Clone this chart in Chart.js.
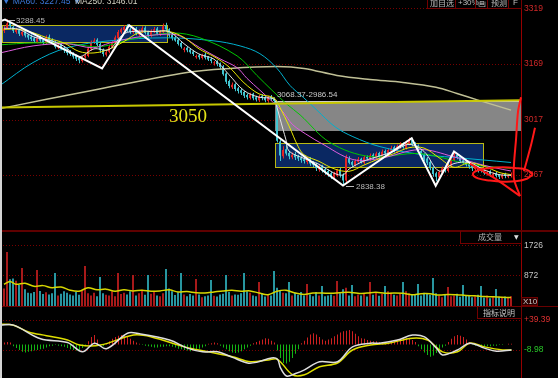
<!DOCTYPE html>
<html>
<head>
<meta charset="utf-8">
<script src="https://cdn.jsdelivr.net/npm/chart.js@4.4.1/dist/chart.umd.min.js"></script>
<style>
html,body{margin:0;padding:0;background:#000;}
#wrap{position:relative;width:558px;height:378px;background:#000;overflow:hidden;font-family:"Liberation Sans",Arial,sans-serif;}
#wrap canvas{position:absolute;left:0;}
.t{position:absolute;white-space:nowrap;line-height:1;}
.box{position:absolute;border:1px solid rgb(115,0,0);box-sizing:border-box;color:#bdbdbd;font-family:"Noto Sans CJK SC",sans-serif;font-size:8px;white-space:nowrap;}
</style>
</head>
<body>
<div id="wrap">
<canvas id="cMain" width="558" height="231" style="top:0;width:558px;height:231px"></canvas>
<canvas id="cVol" width="558" height="75" style="top:231px;width:558px;height:75px"></canvas>
<canvas id="cMacd" width="558" height="72" style="top:306px;width:558px;height:72px"></canvas>

<div style="position:absolute;left:0;top:230px;width:558px;height:2px;background:rgb(95,0,0)"></div>
<div style="position:absolute;left:0;top:306px;width:558px;height:1px;background:rgb(105,0,0)"></div>
<div style="position:absolute;left:0;top:0;width:2px;height:378px;background:#d4d4d4"></div>

<div class="t" style="left:2px;top:-3px;font-size:8.5px;color:#3b78d8">▼ MA60: 3227.45 ▼</div>
<div class="t" style="left:75px;top:-3px;font-size:8.5px;color:#d4d4c4">MA250: 3146.01</div>

<div class="box" style="left:427px;top:-4px;width:29px;height:13px;line-height:11px;padding-left:2px">加自选</div>
<div class="box" style="left:455px;top:-4px;width:21px;height:13px;line-height:11px;padding-left:2px;font-family:'Liberation Sans',Arial">+30%</div>
<div class="box" style="left:475px;top:-4px;width:13px;height:13px;line-height:11px;padding-left:2px">画</div>
<div class="box" style="left:487px;top:-4px;width:22px;height:13px;line-height:11px;padding-left:3px">预测</div>
<div class="box" style="left:508px;top:-4px;width:14px;height:13px;line-height:11px;padding-left:4px;font-family:'Liberation Sans',Arial">F</div>

<div class="box" style="left:460px;top:231px;width:62px;height:13px;border-top:none;line-height:11px;padding-left:17px;color:#b4b4b4">成交量<span style="position:absolute;left:53px;top:0;font-size:6px;color:#e0e0e0;font-family:'DejaVu Sans'">▼</span></div>
<div class="box" style="left:477px;top:306px;width:45px;height:13px;line-height:12px;padding-left:5px;color:#c4c4c4">指标说明</div>
<div class="t" style="left:521px;top:297px;width:17px;height:9px;border:1px solid rgb(110,0,0);box-sizing:border-box;background:rgb(45,0,0);color:#c8c8c8;font-size:8px;line-height:7px;padding-left:1px">X10</div>
</div>

<script>
// ================= DATA =================
const candleIndex = [...Array(170).keys()];

const openP = [
3258,3266,3280,3268,3255,3260,3248,3256,3247,3242,3238,
3228,3240,3233,3226,3242,3234,3226,3213,3222,3212,3207,
3200,3196,3190,3184,3176,3186,3190,3208,3226,3234,3222,
3206,3193,3201,3214,3224,3238,3254,3260,3270,
3262,3254,3264,3248,3256,3266,3254,3244,3256,3264,3248,3254,3272,
3262,3247,3240,3234,3225,3206,3212,3207,3202,3186,3192,
3184,3194,3187,3182,3170,3175,3169,
3162,3142,3122,3105,3113,3102,
3097,3092,3084,3076,3087,3078,
3070,3082,3078,3068,3080,3075,
3066,2958,2918,
2937,2927,2915,2924,2918,2914,
2910,2902,2912,2900,2897,2882,
2892,2883,2878,2872,2862,2866,2882,
2868,2852,
2912,2902,2894,2903,2911,2900,
2916,2910,2922,2913,2927,2916,2932,2923,
2933,2942,2930,2943,2952,2940,2953,2962,
2952,2947,2932,2922,2912,2902,2887,
2872,2860,2873,2887,
2878,2893,2908,2922,2917,
2907,2902,2897,2892,2883,2890,
2882,2880,2870,2877,2866,2872,2867,2860,2870,2862,2865];

const closeP = [
3265,3278,3270,3258,3262,3250,3255,3245,3240,3236,3230,
3238,3232,3225,3240,3232,3228,3215,3220,3210,3205,3198,
3195,3188,3182,3178,3185,3192,3210,3228,3232,3220,3205,
3195,3200,3215,3225,3240,3255,3262,3268,3260,
3255,3262,3250,3258,3265,3252,3245,3258,3262,3250,3255,3270,3262,
3245,3238,3232,3222,3215,3210,3205,3200,3195,3190,3186,
3192,3185,3180,3176,3172,3168,3160,
3140,3120,3108,3112,3100,3095,
3090,3082,3078,3085,3075,3072,
3080,3076,3070,3078,3074,3068,
2960,2920,2935,
2925,2918,2922,2915,2912,2908,
2905,2910,2898,2895,2885,2890,
2880,2875,2870,2865,2872,2880,2868,
2852,2915,
2900,2895,2905,2910,2902,2915,
2912,2920,2915,2925,2918,2930,2925,2935,
2940,2932,2945,2950,2942,2955,2960,2950,
2945,2930,2920,2910,2900,2885,2870,
2862,2875,2885,2880,
2895,2910,2920,2915,2905,
2900,2895,2890,2885,2888,2880,
2878,2872,2875,2868,2870,2865,2862,2868,2864,2866,2870];

const highP = [
3272,3288.45,3282,3272,3266,3264,3260,3262,3250,3248,3242,
3242,3245,3236,3246,3248,3238,3230,3224,3226,3216,3210,
3206,3200,3194,3188,3190,3196,3214,3232,3238,3238,3226,
3210,3205,3220,3230,3245,3260,3266,3274,3276,
3266,3268,3268,3262,3270,3270,3258,3262,3268,3268,3260,3278,3280,
3265,3250,3244,3238,3228,3214,3216,3210,3206,3194,3196,
3196,3198,3190,3186,3176,3178,3172,
3165,3145,3126,3118,3116,3106,
3100,3095,3088,3090,3090,3082,
3084,3086,3082,3082,3084,3078,
3068,2962,2945,
2948,2932,2928,2930,2922,2918,
2915,2916,2915,2905,2900,2895,
2895,2888,2882,2876,2876,2884,2886,
2872,2922,
2918,2906,2910,2916,2914,2920,
2920,2925,2926,2930,2930,2936,2936,2940,
2946,2946,2950,2956,2956,2960,2968,2966,
2956,2950,2936,2926,2916,2906,2890,
2876,2878,2890,2892,
2898,2914,2928,2926,2920,
2912,2906,2900,2896,2892,2893,
2886,2883,2879,2880,2874,2875,2870,2872,2873,2869,2874];

const lowP = [
3252,3262,3265,3252,3250,3244,3243,3240,3234,3230,3225,
3224,3228,3220,3222,3228,3222,3210,3208,3205,3198,3192,
3190,3182,3176,3170,3172,3182,3186,3204,3222,3216,3198,
3188,3188,3197,3210,3220,3234,3250,3256,3254,
3250,3250,3246,3244,3252,3248,3240,3240,3252,3246,3244,3250,3256,
3240,3232,3228,3218,3210,3200,3200,3196,3190,3182,3180,
3180,3180,3176,3170,3164,3162,3154,
3136,3114,3102,3100,3094,3088,
3084,3076,3072,3072,3070,3066,
3065,3070,3064,3063,3068,3062,
2955,2905,2912,
2920,2910,2910,2908,2905,2900,
2898,2896,2892,2888,2878,2876,
2874,2868,2862,2856,2858,2862,2860,
2838.38,2848,
2896,2888,2890,2900,2898,2896,
2906,2906,2910,2910,2912,2912,2920,2918,
2928,2928,2926,2938,2938,2936,2948,2945,
2940,2925,2914,2904,2894,2880,2862,
2850,2855,2868,2874,
2874,2888,2904,2910,2900,
2896,2890,2884,2878,2878,2874,
2874,2868,2866,2862,2860,2860,2856,2856,2858,2858,2860];

const volume = [
500,1537,760,780,720,600,1082,480,380,360,
400,1025,430,340,390,330,360,940,300,350,
420,380,330,300,400,320,430,1139,360,300,
380,280,826,360,320,300,420,280,940,340,
380,330,420,883,300,360,460,320,883,350,
430,300,280,360,1053,500,420,310,390,940,
330,280,340,300,769,330,250,280,300,740,
290,270,330,350,883,400,300,330,320,360,
940,420,380,300,280,683,360,270,330,300,
996,520,430,380,360,683,300,380,320,400,
300,626,330,280,400,300,569,280,300,330,
290,712,360,480,520,300,598,280,330,300,
350,270,683,320,400,290,350,569,420,380,
320,300,350,683,420,360,320,340,626,300,
380,350,320,797,360,300,250,330,541,280,
300,350,260,598,300,290,250,280,320,569,
240,300,220,280,484,260,230,270,250,280];

const macdHist = [
3,4,3,
-3,-6,-9,-12,-13,-12,-11,-10,-9,-8,-7,-5,-3,
-2,-1,-2,
-3,-4,-6,-8,-9,-10,-9,-6,-3,
5,12,15,8,
-2,-3,
2,5,9,12,14,15,14,12,9,6,3,1,
-1,-2,-3,-4,-5,-5,-4,-4,-3,-3,
-4,-5,-7,-8,-9,-10,-11,-10,-9,-7,-5,-3,
1,2,3,2,
-2,-5,-8,-11,-13,-14,-13,-11,-8,-5,-2,
2,4,6,8,10,9,6,
3,
-10,-22,-30,-31,-28,-22,-15,-8,
2,6,11,16,18,16,12,8,6,
8,10,13,16,19,21,22,23,21,17,13,10,
9,7,6,5,5,4,3,3,2,4,
6,8,9,10,10,9,7,4,
-3,-8,-13,-17,-20,-18,-14,-9,-5,-2,
4,9,13,15,14,12,8,4,
-1,-2,-3,-4,-4,-3,-3,-2,-2,-1,-1,0,1,1];

// moving-average lines: [candle index, value]
const ma5 = [[0,3265],[5,3262],[10,3241],[15,3233],[20,3216],[25,3188],[30,3209],[35,3207],[40,3250],[45,3257],[50,3256],[55,3256],[60,3223],[65,3195],[70,3181],[75,3139],[80,3096],[85,3078],[90,3073],[91,3050],[92,3020],[93,2991],[94,2962],[95,2932],[100,2912],[105,2896],[110,2872],[113,2867],[115,2883],[120,2905],[125,2918],[130,2932],[135,2950],[140,2931],[145,2878],[150,2898],[155,2901],[160,2881],[165,2868],[169,2866]];
const ma10 = [[0,3262],[5,3262],[10,3252],[15,3237],[20,3225],[25,3202],[30,3198],[35,3208],[40,3229],[45,3253],[50,3256],[55,3256],[60,3240],[65,3209],[70,3188],[75,3160],[80,3117],[85,3087],[90,3076],[92,3050],[95,3000],[98,2945],[100,2922],[105,2904],[110,2884],[115,2877],[120,2894],[125,2911],[130,2925],[135,2941],[140,2940],[145,2914],[150,2888],[155,2900],[160,2891],[165,2874],[169,2868]];
const ma20 = [[-1.3,3198],[9.7,3217],[21,3223],[29.7,3212],[35.3,3225],[43,3239],[54.3,3249],[58.7,3244],[65.3,3212],[72,3182],[77.7,3158],[81,3129],[85.3,3097],[89.7,3064],[93,3038],[96.3,3003],[102,2971],[105.3,2955],[116.3,2909],[125.3,2912],[138.7,2936],[149.7,2917],[158.7,2896],[166.3,2882],[169,2878]];
const ma30 = [[-1.3,3220],[9.7,3225],[22,3223],[32,3215],[43,3236],[56.3,3252],[65.3,3239],[77.7,3190],[84.3,3137],[89.3,3097],[94.3,3059],[98.7,3030],[108.7,2955],[122,2917],[138.7,2925],[155.3,2896],[169,2885]];
const ma60 = [[-1.3,3110],[9.7,3172],[21,3212],[35.3,3231],[54.3,3239],[69.7,3231],[78.7,3217],[85.3,3196],[91,3156],[95.3,3110],[99.7,3078],[104.3,3043],[110.3,2998],[116.3,2971],[125.3,2944],[138.7,2923],[149.7,2915],[169,2901]];
const ma250 = [[-1.3,3047],[29.7,3097],[61,3145],[75.3,3156],[91,3161],[100,3156],[111,3137],[122,3126],[133,3118],[144,3105],[151,3088],[158,3070],[169,3043]];

const zigzag = [[-1.33,3284],[0.33,3288.45],[32.7,3156],[41.7,3273],[113,2838.38],[135.9,2967],[143.9,2838],[150,2931],[155.9,2896]];
const level3050 = [[-1.33,3050],[172.33,3070]];
const levelText = '3050';

// hand-drawn red marks
const markA = [[172.33,3078],[171.33,3038],[170.67,2963],[170,2896],[170,2856],[172,2810]];
const markB = [[177,2995],[175.7,2949],[173.3,2877]];
const markC = [[155.3,2898],[164,2856],[172,2810]];
const markRing = [[176.3,2869],[174.3,2857],[170.3,2850],[166.3,2849],[162,2852],[158,2858],[156.3,2869],[158,2880],[162,2886],[166.3,2888],[170.3,2886],[174.3,2881],[176.3,2869]];

// consolidation zones and gap
const zoneStart = [-0.67, 90.3];
const zoneEnd = [54.3, 159.6];
const zoneHigh = [3273.5, 2953.9];
const zoneLow = [3226.6, 2888.6];
const gapStart = 90.3, gapHigh = 3068.37, gapLow = 2986.54;
const highMark = [1, 3288.45];
const lowMark = [113, 2838.38];
const levelTextPos = [61.3, 3024];

const volMA = [[0,620],[2,700],[4,620],[7,650],[10,560],[13,580],[16,520],[19,540],[22,450],[25,420],[28,520],[31,460],[34,480],[37,420],[40,460],[43,430],[46,450],[49,420],[52,430],[55,460],[58,400],[61,410],[64,380],[67,370],[70,400],[73,430],[76,450],[79,420],[82,430],[85,370],[88,320],[91,420],[94,450],[97,370],[100,330],[103,370],[106,370],[109,360],[112,380],[115,390],[118,360],[121,370],[124,390],[127,360],[130,370],[133,360],[136,320],[139,350],[142,350],[145,310],[148,330],[151,320],[154,300],[157,290],[160,270],[163,260],[166,250],[169,240]];

const dif = [[-1.3,31],[3,31],[12,9],[21,3],[26,-12],[30,2],[34,-7],[41,18],[45,17],[55,7],[61,-6],[66,-12],[71,-12],[76,-21],[81,-30],[84,-29],[89,-22],[91,-24],[92,-38],[94,-51],[97,-47],[100,-41],[105,-28],[111,-28],[116,-4],[122,2],[125,2],[131,7],[136,15],[140,12],[144,-6],[146,-17],[151,-9],[155,2],[160,-6],[164,-11],[169,-9]];
const dea = [[-1.3,33],[3,31],[8,20],[14,14],[21,7],[25,-1],[32,-1],[43,15],[49,12],[60,-4],[68,-12],[76,-20],[82,-28],[88,-25],[91,-24],[96,-49],[100,-49],[105,-36],[111,-30],[116,-9],[122,-1],[128,2],[136,10],[141,7],[146,-12],[151,-12],[155,2],[160,-4],[166,-9],[169,-9]];

const mainTicks = [3319, 3169, 3017, 2867];
const volTicks = [1726, 872];
const macdTicks = [39.39, -8.98];

// ================= CHARTS =================
Chart.defaults.font.family = '"Liberation Sans", Arial, sans-serif';
const X_MIN = -4/3, X_SPAN = 521/3;
const UP = 'rgb(228,36,36)', DOWN = 'rgb(66,196,208)';
const VUP = 'rgb(168,26,26)', VDOWN = 'rgb(40,150,160)';

const P = a => a.map(([x, y]) => ({x, y}));
const lineDs = (data, color, width, order, extra) => Object.assign({
  type:'line', data:P(data), borderColor:color, borderWidth:width, pointRadius:0,
  tension:0.35, fill:false, order
}, extra || {});

// shift (in index units) lets 1px bars sit on whole pixels
const xScale = (shift) => ({type:'linear', min:X_MIN - (shift || 0), max:X_MIN - (shift || 0) + X_SPAN, offset:false, display:false});
function yAxis(min, max, tickVals, color, fmt) {
  return {
    type:'linear', position:'right', min, max, beginAtZero:false,
    afterBuildTicks: s => { s.ticks = tickVals.map(v => ({value:v})); },
    afterFit: s => { s.width = 37; s.paddingTop = 0; s.paddingBottom = 0; },
    grid:{display:false, drawTicks:false},
    border:{display:true, color:'rgb(150,0,0)', width:1},
    ticks:{autoSkip:false, padding:3, color, font:{size:8.5}, callback: fmt}
  };
}
const common = {
  responsive:false, animation:false, events:[], devicePixelRatio:1,
  layout:{padding:0},
  plugins:{legend:{display:false}, tooltip:{enabled:false}}
};

const dottedGrid = {
  id:'dottedGrid',
  beforeDatasetsDraw(chart) {
    const {ctx, chartArea:{left, right}, scales:{y}} = chart;
    ctx.save();
    ctx.strokeStyle = 'rgb(120,0,0)'; ctx.lineWidth = 1; ctx.setLineDash([1, 2]);
    for (const t of y.ticks) {
      const py = Math.round(y.getPixelForValue(t.value)) + 0.5;
      ctx.beginPath(); ctx.moveTo(left, py); ctx.lineTo(right, py); ctx.stroke();
    }
    ctx.restore();
  }
};

const zonesPlugin = {
  id:'zones',
  beforeDatasetsDraw(chart) {
    const {ctx, chartArea, scales:{x, y}} = chart;
    ctx.save();
    const gx0 = Math.round(x.getPixelForValue(gapStart));
    const gy0 = Math.round(y.getPixelForValue(gapHigh));
    const gy1 = Math.round(y.getPixelForValue(gapLow));
    ctx.fillStyle = 'rgb(134,134,134)';
    ctx.fillRect(gx0, gy0, chartArea.right - gx0, gy1 - gy0);
    ctx.fillStyle = 'rgb(205,205,205)';
    ctx.fillRect(gx0, gy0, chartArea.right - gx0, 1);
    for (let k = 0; k < zoneStart.length; k++) {
      const x0 = Math.round(x.getPixelForValue(zoneStart[k])), x1 = Math.round(x.getPixelForValue(zoneEnd[k]));
      const y0 = Math.round(y.getPixelForValue(zoneHigh[k])), y1 = Math.round(y.getPixelForValue(zoneLow[k]));
      ctx.fillStyle = 'rgb(10,40,98)';
      ctx.fillRect(x0, y0, x1 - x0, y1 - y0);
      ctx.strokeStyle = 'rgb(185,185,20)'; ctx.lineWidth = 1;
      ctx.strokeRect(x0 + 0.5, y0 + 0.5, x1 - x0, y1 - y0);
    }
    ctx.restore();
  },
  afterDatasetsDraw(chart) {
    const {ctx, scales:{x, y}} = chart;
    ctx.save();
    ctx.font = '8px "Liberation Sans", Arial, sans-serif';
    ctx.fillStyle = '#b8b8b8'; ctx.strokeStyle = '#b8b8b8'; ctx.lineWidth = 1;
    ctx.textBaseline = 'middle'; ctx.textAlign = 'left';
    let px = x.getPixelForValue(highMark[0]), py = Math.round(y.getPixelForValue(highMark[1])) + 0.5;
    ctx.beginPath(); ctx.moveTo(px + 2, py); ctx.lineTo(px + 8, py); ctx.stroke();
    ctx.fillText(highMark[1].toFixed(2), px + 9, py);
    px = x.getPixelForValue(lowMark[0]); py = Math.round(y.getPixelForValue(lowMark[1])) + 0.5;
    ctx.beginPath(); ctx.moveTo(px + 3, py); ctx.lineTo(px + 11, py); ctx.stroke();
    ctx.fillText(lowMark[1].toFixed(2), px + 13, py);
    ctx.fillStyle = '#c8c8c8';
    ctx.fillText(gapHigh.toFixed(2) + '-' + gapLow.toFixed(2), x.getPixelForValue(gapStart) + 2, y.getPixelForValue(gapHigh) - 6);
    ctx.font = '19px "Liberation Serif", "Times New Roman", serif';
    ctx.fillStyle = 'rgb(228,228,24)'; ctx.textAlign = 'center';
    ctx.fillText(levelText, x.getPixelForValue(levelTextPos[0]), y.getPixelForValue(levelTextPos[1]));
    ctx.restore();
  }
};

const upDown = candleIndex.map(i => closeP[i] >= openP[i]);
const candleColors = upDown.map(u => u ? UP : DOWN);
const volColors = upDown.map(u => u ? VUP : VDOWN);
const RED_MARK = 'rgb(255,24,24)';

new Chart(document.getElementById('cMain'), {
  type:'bar',
  data:{datasets:[
    lineDs(markA, RED_MARK, 2, 0, {clip:false, tension:0.3}),
    lineDs(markB, RED_MARK, 2, 0, {clip:false, tension:0.3}),
    lineDs(markC, RED_MARK, 2, 0, {clip:false, tension:0.3}),
    lineDs(markRing, RED_MARK, 2, 0, {clip:false, tension:0.4}),
    lineDs(zigzag, '#ffffff', 2, 1, {tension:0}),
    lineDs(level3050, 'rgb(200,200,0)', 2, 2, {tension:0}),
    lineDs(ma5, 'rgb(228,228,228)', 1, 3),
    lineDs(ma10, 'rgb(232,232,0)', 1, 4),
    lineDs(ma20, 'rgb(222,92,222)', 1, 5),
    lineDs(ma30, 'rgb(0,200,0)', 1, 6),
    lineDs(ma60, 'rgb(0,176,206)', 1, 7),
    lineDs(ma250, 'rgb(192,192,150)', 1.5, 8),
    {type:'bar', data:candleIndex.map(i => ({x:i, y:[openP[i], closeP[i]]})), backgroundColor:candleColors,
     barThickness:2, grouped:false, inflateAmount:0, order:9},
    {type:'bar', xAxisID:'xw', data:candleIndex.map(i => ({x:i, y:[lowP[i], highP[i]]})), backgroundColor:candleColors,
     barThickness:1, grouped:false, inflateAmount:0, order:10}
  ]},
  options:Object.assign({}, common, {scales:{x:xScale(0), xw:xScale(1/6), y:yAxis(2715.2, 3341.5, mainTicks, 'rgb(208,40,40)', v => String(v))}}),
  plugins:[dottedGrid, zonesPlugin]
});

new Chart(document.getElementById('cVol'), {
  type:'bar',
  data:{datasets:[
    lineDs(volMA, 'rgb(215,215,0)', 1.5, 1),
    {type:'bar', data:candleIndex.map(i => ({x:i, y:volume[i]})), backgroundColor:volColors,
     barThickness:2, grouped:false, inflateAmount:0, order:2}
  ]},
  options:Object.assign({}, common, {scales:{x:xScale(0), y:yAxis(0, 2135, volTicks, '#c4c4c4', v => String(v))}}),
  plugins:[dottedGrid]
});

new Chart(document.getElementById('cMacd'), {
  type:'bar',
  data:{datasets:[
    lineDs(dif, 'rgb(222,222,222)', 1.5, 1),
    lineDs(dea, 'rgb(222,222,0)', 1.5, 2),
    {type:'bar', data:candleIndex.map(i => ({x:i, y:macdHist[i]})),
     backgroundColor:macdHist.map(v => v >= 0 ? 'rgb(205,32,32)' : 'rgb(20,180,20)'),
     barThickness:1, grouped:false, inflateAmount:0, order:3}
  ]},
  options:Object.assign({}, common, {scales:{x:xScale(1/6), y:yAxis(-54.2, 61.9, macdTicks,
    c => (c.tick && c.tick.value > 0) ? 'rgb(222,48,48)' : 'rgb(40,200,40)',
    v => (v > 0 ? '+' : '') + Number(v).toFixed(2))}}),
  plugins:[dottedGrid]
});
</script>
</body>
</html>
